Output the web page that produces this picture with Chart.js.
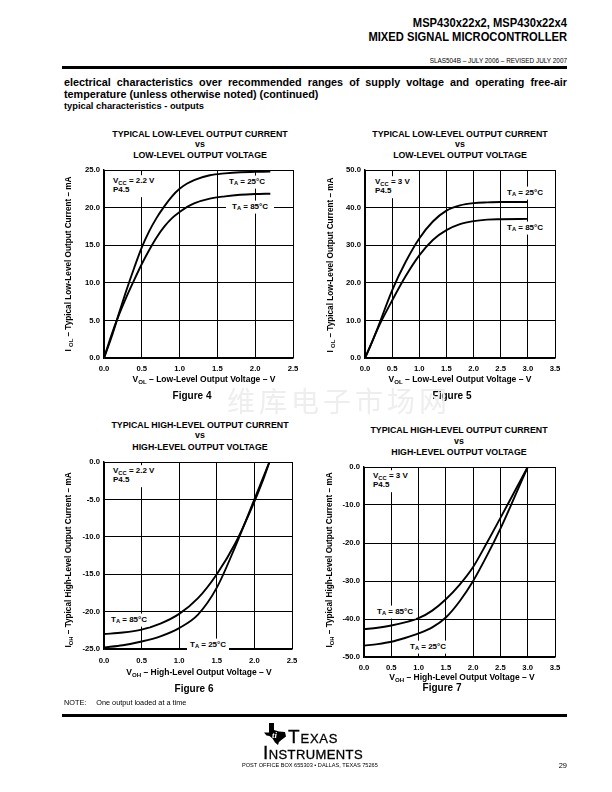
<!DOCTYPE html>
<html>
<head>
<meta charset="utf-8">
<script src="https://cdn.jsdelivr.net/npm/chart.js@4.4.1/dist/chart.umd.min.js"></script>
<style>
  html, body { margin: 0; padding: 0; background: #fff; }
  #page { position: relative; width: 612px; height: 792px; overflow: hidden;
          font-family: "Liberation Sans", Arial, sans-serif; color: #000; }
  .t { position: absolute; white-space: nowrap; line-height: 1; }
  .b { font-weight: bold; }
  canvas { position: absolute; }
  sub { font-size: 0.72em; vertical-align: -0.3em; line-height: 0; }
  .lbl { background: #fff; padding: 2px 3px; font-weight: bold; font-size: 8px; line-height: 1.1; }
  .rule { position: absolute; background: #000; }
</style>
</head>
<body>
<div id="page"></div>
<script>
// Figure 4 - IOL vs VOL, VCC = 2.2 V
const fig4Volts = [0, 0.1, 0.2, 0.3, 0.4, 0.5, 0.6, 0.7, 0.8, 0.9, 1.0, 1.1, 1.2, 1.4, 1.6, 1.8, 2.0, 2.2];
const fig4Ta25 = [0, 2.8, 6.0, 9.1, 12.0, 14.7, 16.9, 18.7, 20.2, 21.5, 22.5, 23.2, 23.7, 24.3, 24.55, 24.7, 24.75, 24.8];
const fig4Ta85 = [0, 3.1, 5.8, 8.2, 10.4, 12.5, 14.4, 16.1, 17.5, 18.6, 19.4, 20.1, 20.6, 21.2, 21.5, 21.7, 21.8, 21.85];

// Figure 5 - IOL vs VOL, VCC = 3 V
const fig5Volts = [0, 0.1, 0.25, 0.5, 0.75, 1.0, 1.25, 1.5, 1.75, 2.0, 2.25, 2.5, 3.0];
const fig5Ta25 = [0, 3.2, 8.6, 18.0, 25.6, 31.8, 36.3, 39.2, 40.6, 41.2, 41.4, 41.5, 41.5];
const fig5Ta85 = [0, 3.3, 8.3, 15.3, 21.8, 27.3, 31.4, 34.0, 35.6, 36.4, 36.8, 36.9, 37.0];

// Figure 6 - IOH vs VOH, VCC = 2.2 V
const fig6Volts = [0, 0.25, 0.5, 0.75, 1.0, 1.25, 1.5, 1.75, 2.0, 2.1, 2.2];
const fig6Ta25 = [-24.8, -24.5, -24.0, -23.3, -22.2, -20.4, -16.8, -11.2, -5.0, -2.5, 0];
const fig6Ta85 = [-23.0, -22.8, -22.4, -21.6, -20.3, -18.2, -15.0, -10.8, -5.3, -2.8, 0];

// Figure 7 - IOH vs VOH, VCC = 3 V
const fig7Volts = [0, 0.25, 0.5, 0.75, 1.0, 1.25, 1.5, 1.75, 2.0, 2.25, 2.5, 2.75, 3.0];
const fig7Ta25 = [-47.0, -46.6, -46.0, -45.0, -43.8, -42.2, -39.6, -35.4, -30.0, -23.4, -16.2, -8.2, 0];
const fig7Ta85 = [-42.7, -42.3, -41.7, -40.9, -39.8, -37.8, -34.8, -31.0, -26.3, -20.0, -13.4, -6.7, 0];

// axis ranges (min, max, step)
const lowX = [0, 2.5, 0.5], lowX3 = [0, 3.5, 0.5];
const fig4Y = [0, 25, 5], fig5Y = [0, 50, 10];
const fig6Y = [-25, 0, 5], fig7Y = [-50, 0, 10];

const page = document.getElementById('page');

function put(html, x, y, cls, align, extra) {
    const d = document.createElement('div');
    d.className = 't ' + (cls || '');
    d.innerHTML = html;
    d.style.left = x + 'px';
    d.style.top = y + 'px';
    const tx = align === 'c' ? '-50%' : align === 'r' ? '-100%' : '0';
    d.style.transform = `translate(${tx},-50%)` + (extra || '');
    page.appendChild(d);
    return d;
}

function rule(x, y, w, h) {
    const d = document.createElement('div');
    d.className = 'rule';
    Object.assign(d.style, { left: x + 'px', top: y + 'px', width: w + 'px', height: h + 'px' });
    page.appendChild(d);
}

Chart.defaults.font.family = '"Liberation Sans", Arial, sans-serif';
Chart.defaults.color = '#000';

function pts(xs, ys) {
    return xs.map((x, i) => ({ x: x, y: ys[i] }));
}

function makeChart(box, xr, yr, volts, ta25, ta85) {
    const c = document.createElement('canvas');
    c.width = box.w; c.height = box.h;
    Object.assign(c.style, { left: box.left + 'px', top: box.top + 'px', width: box.w + 'px', height: box.h + 'px' });
    page.appendChild(c);
    const tickFont = { size: 7.7, weight: 'bold' };
    const line = { borderColor: '#000', borderWidth: 1.9, pointRadius: 0, fill: false, cubicInterpolationMode: 'monotone' };
    new Chart(c.getContext('2d'), {
        type: 'line',
        data: {
            datasets: [
                Object.assign({ label: 'TA = 25°C', data: pts(volts, ta25) }, line),
                Object.assign({ label: 'TA = 85°C', data: pts(volts, ta85) }, line)
            ]
        },
        options: {
            responsive: false,
            animation: false,
            devicePixelRatio: 1,
            layout: { padding: { top: 10, right: box.padR, left: 0, bottom: 0 } },
            plugins: { legend: { display: false }, tooltip: { enabled: false } },
            scales: {
                x: {
                    type: 'linear', min: xr[0], max: xr[1],
                    afterFit: s => { s.height = box.xh; },
                    ticks: { stepSize: xr[2], font: tickFont, padding: box.xpad, maxRotation: 0,
                             callback: v => v.toFixed(1) },
                    grid: { color: '#000', lineWidth: 1, drawTicks: false },
                    border: { display: true, color: '#000', width: 1.4 }
                },
                y: {
                    type: 'linear', min: yr[0], max: yr[1],
                    afterFit: s => { s.width = box.yw; },
                    ticks: { stepSize: yr[2], font: tickFont, padding: 4,
                             callback: v => v.toFixed(1) },
                    grid: { color: '#000', lineWidth: 1, drawTicks: false },
                    border: { display: true, color: '#000', width: 1.4 }
                }
            }
        }
    });
}

// ---- page header ----
put('MSP430x22x2, MSP430x22x4', 567, 22, 'b', 'r', ' scaleX(0.86)').style.cssText += 'font-size:13px;transform-origin:right center;';
put('MIXED SIGNAL MICROCONTROLLER', 567, 36, 'b', 'r', ' scaleX(0.86)').style.cssText += 'font-size:13px;transform-origin:right center;';
put('SLAS504B – JULY 2006 – REVISED JULY 2007', 567, 61, '', 'r').style.fontSize = '6.4px';
rule(62, 66, 505, 3);

const para = put('electrical characteristics over recommended ranges of supply voltage and operating free-air', 64, 82, 'b', 'l');
para.style.cssText += 'font-size:10.8px;width:503px;text-align:justify;text-align-last:justify;';
put('temperature (unless otherwise noted) (continued)', 64, 93.5, 'b', 'l').style.fontSize = '10.8px';
put('typical characteristics - outputs', 64, 107, 'b', 'l').style.fontSize = '9.3px';

// ---- charts ----
makeChart({ left: 60, top: 160, w: 250, h: 222, yw: 44, xh: 24, padR: 17, xpad: 6 }, lowX, fig4Y, fig4Volts, fig4Ta25, fig4Ta85);
makeChart({ left: 310, top: 160, w: 260, h: 222, yw: 55, xh: 24, padR: 15, xpad: 6 }, lowX3, fig5Y, fig5Volts, fig5Ta25, fig5Ta85);
makeChart({ left: 60, top: 452, w: 250, h: 222, yw: 44, xh: 25, padR: 18, xpad: 7 }, lowX, fig6Y, fig6Volts, fig6Ta25, fig6Ta85);
makeChart({ left: 310, top: 457, w: 260, h: 225, yw: 54, xh: 25, padR: 15, xpad: 6 }, lowX3, fig7Y, fig7Volts, fig7Ta25, fig7Ta85);

// ---- chart titles ----
function title3(l1, l3, cx, y1, y2, y3) {
    put(l1, cx, y1, 'b', 'c').style.fontSize = '8.8px';
    put('vs', cx, y2, 'b', 'c').style.fontSize = '8.8px';
    put(l3, cx, y3, 'b', 'c').style.fontSize = '8.8px';
}
title3('TYPICAL LOW-LEVEL OUTPUT CURRENT', 'LOW-LEVEL OUTPUT VOLTAGE', 200, 134, 144, 155);
title3('TYPICAL LOW-LEVEL OUTPUT CURRENT', 'LOW-LEVEL OUTPUT VOLTAGE', 460, 134, 144, 155);
title3('TYPICAL HIGH-LEVEL OUTPUT CURRENT', 'HIGH-LEVEL OUTPUT VOLTAGE', 200, 425, 435, 447);
title3('TYPICAL HIGH-LEVEL OUTPUT CURRENT', 'HIGH-LEVEL OUTPUT VOLTAGE', 459, 430, 441, 452);

// ---- axis titles ----
function xTitle(html, cx, y) { put(html, cx, y, 'b', 'c').style.fontSize = '8.5px'; }
function yTitle(html, x, cy) { put(html, x, cy, 'b', 'c', ' rotate(-90deg)').style.fontSize = '8.2px'; }
xTitle('V<sub>OL</sub> – Low-Level Output Voltage – V', 204, 379);
xTitle('V<sub>OL</sub> – Low-Level Output Voltage – V', 460, 379);
xTitle('V<sub>OH</sub> – High-Level Output Voltage – V', 199, 672);
xTitle('V<sub>OH</sub> – High-Level Output Voltage – V', 462, 677);
yTitle('I <sub>OL</sub>  – Typical Low-Level Output Current – mA', 69, 264);
yTitle('I <sub>OL</sub> – Typical Low-Level Output Current – mA', 331, 265);
yTitle('I<sub>OH</sub> – Typical High-Level Output Current – mA', 69, 560);
yTitle('I<sub>OH</sub> – Typical High-Level Output Current – mA', 330, 560);

// ---- figure captions ----
function caption(txt, cx, y) { put(txt, cx, y, 'b', 'c').style.fontSize = '10px'; }
caption('Figure 4', 192, 396);
caption('Figure 5', 452, 396);
caption('Figure 6', 194, 689);
caption('Figure 7', 442, 688);

// ---- in-plot labels ----
put('V<sub>CC</sub> = 2.2 V<br>P4.5', 110, 186, 'lbl', 'l');
put('T<sub>A</sub> = 25°C', 226, 182, 'lbl', 'l');
put('T<sub>A</sub> = 85°C', 226, 207, 'lbl', 'l').style.padding = '2px 6px';

put('V<sub>CC</sub> = 3 V<br>P4.5', 372, 187, 'lbl', 'l');
put('T<sub>A</sub> = 25°C', 504, 193, 'lbl', 'l');
put('T<sub>A</sub> = 85°C', 504, 228, 'lbl', 'l');

put('V<sub>CC</sub> = 2.2 V<br>P4.5', 110, 476, 'lbl', 'l');
put('T<sub>A</sub> = 85°C', 108, 620, 'lbl', 'l');
put('T<sub>A</sub> = 25°C', 187, 645, 'lbl', 'l');

put('V<sub>CC</sub> = 3 V<br>P4.5', 370, 481, 'lbl', 'l');
put('T<sub>A</sub> = 85°C', 374, 612, 'lbl', 'l');
put('T<sub>A</sub> = 25°C', 407, 647, 'lbl', 'l');

// ---- note, watermark ----
put('NOTE:<span style="display:inline-block;width:10px"></span>One output loaded at a time', 64, 703, '', 'l').style.fontSize = '7.3px';
const wm = put('维库电子市场网', 227, 400, '', 'l');
wm.style.cssText += 'font-family:"Noto Sans CJK SC";font-size:28px;letter-spacing:4px;color:#eeeeee;';

// ---- footer ----
rule(62, 714, 505, 3);
const logo = document.createElement('div');
logo.innerHTML = '<svg width="24" height="22" viewBox="0 0 24 22"><path d="M5 0 L10 0 L10 7 L15 8.5 L21 9 L22 13.5 L18 16.5 L15 19 L14 22 L11 19.5 L8.5 15.5 L5.5 13 L2.5 12.5 L0 9.5 L5 9.5 Z" fill="#000"/><text x="8" y="15" font-size="9" font-style="italic" font-weight="bold" fill="#fff" font-family="Liberation Serif">ti</text></svg>';
Object.assign(logo.style, { position: 'absolute', left: '264px', top: '723px' });
page.appendChild(logo);
put('Texas', 288, 736, '', 'l').style.cssText += 'font-size:19px;font-variant:small-caps;letter-spacing:0.8px;-webkit-text-stroke:0.3px #000;';
put('Instruments', 263, 752, '', 'l').style.cssText += 'font-size:19px;font-variant:small-caps;letter-spacing:0.4px;-webkit-text-stroke:0.3px #000;';
put('POST OFFICE BOX 655303 • DALLAS, TEXAS 75265', 242, 766, '', 'l').style.fontSize = '5.6px';
put('29', 567, 766, '', 'r').style.fontSize = '7.5px';
</script>
</body>
</html>
